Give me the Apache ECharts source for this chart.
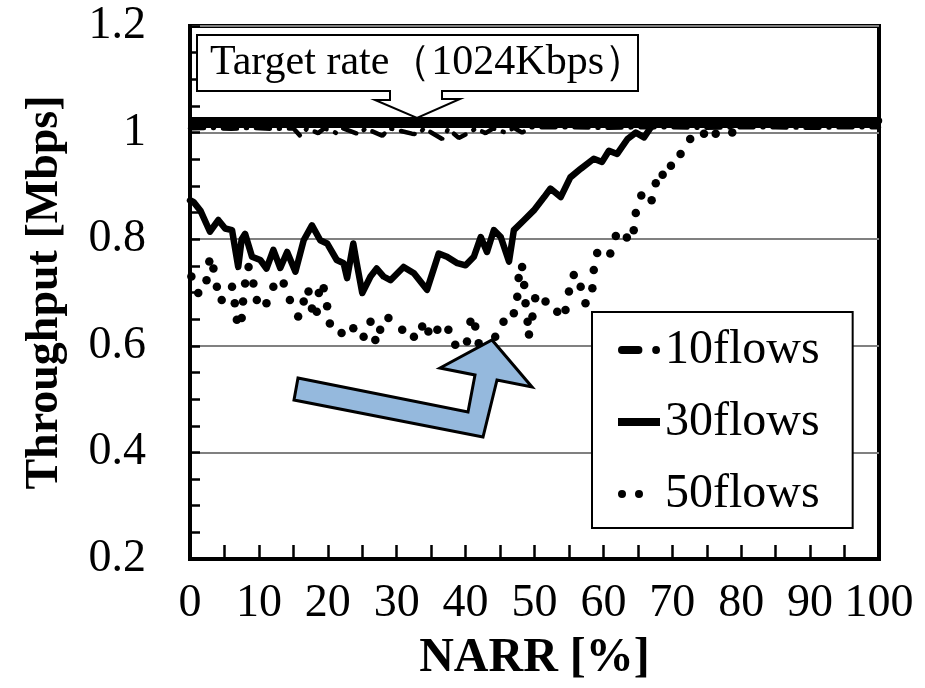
<!DOCTYPE html>
<html><head><meta charset="utf-8">
<script src="https://cdn.jsdelivr.net/npm/echarts@6/dist/echarts.min.js"></script>
<style>html,body{margin:0;padding:0;background:#fff}#c{width:925px;height:688px}</style>
</head><body><div id="c"></div><script>
const seriesNames = ['10flows', '30flows', '50flows'];
const xAxisTitle = 'NARR [%]';
const yAxisTitle = 'Throughput [Mbps]';
const calloutText = 'Target rate（1024Kbps）';
const targetRate = 1.024;
const yMin = 0.2, yMax = 1.2, yStep = 0.2;
const xMin = 0, xMax = 100, xStep = 10;

const flows10 = [[0,1.008],[3,1.009],[6,1.007],[9,1.009],[12,1.007],[15,1.008],[16,0.994],[17,1.008],
  [18.6,0.999],[19.5,1.008],[21.3,0.999],[22.2,1.008],[24.5,0.997],[25.5,1.008],[27.9,0.994],[29,1.008],
  [32.2,0.998],[33.1,0.997],[34,1.008],[36.6,0.988],[37.5,1.007],[39,0.99],[40.4,0.999],[41.5,1.008],
  [42.9,0.999],[44,1.008],[45.8,1.0],[47,1.009],[48.2,1.0],[49.5,1.01],[55,1.01],[60,1.009],[65,1.01],
  [70,1.01],[75,1.009],[80,1.01],[85,1.01],[90,1.009],[95,1.01],[100,1.01]];

const flows30 = [[0,0.873],[0.5,0.870],[1.5,0.854],[2.9,0.814],[4.1,0.836],[5.1,0.82],[6.1,0.817],[7.0,0.748],
  [7.5,0.80],[8.0,0.81],[9.0,0.767],[10.2,0.761],[11.1,0.745],[12.1,0.78],[13.1,0.746],[14.1,0.776],[15.3,0.739],
  [16.5,0.798],[17.7,0.826],[18.9,0.798],[19.9,0.792],[21.3,0.761],[22.3,0.755],[22.8,0.727],[23.7,0.792],
  [24.2,0.755],[25.0,0.699],[26.2,0.73],[27.1,0.745],[28.1,0.73],[29.1,0.723],[31.0,0.748],[32.5,0.736],
  [34.4,0.705],[36.1,0.773],[37.3,0.767],[38.8,0.755],[40.0,0.751],[41.2,0.767],[42.2,0.804],[43.1,0.776],
  [44.1,0.817],[45.1,0.804],[46.3,0.758],[47.0,0.817],[48.5,0.836],[49.9,0.854],[51.4,0.879],[52.3,0.895],
  [53.8,0.879],[55.2,0.916],[56.7,0.932],[58.6,0.951],[59.8,0.945],[60.8,0.966],[62.0,0.96],[63.5,0.988],
  [64.7,1.0],[65.9,0.991],[66.9,1.01],[68,1.02],[70,1.022],[80,1.022],[90,1.022],[100,1.022]];

const flows50 = [[0.2,0.73],[1.2,0.699],[2.4,0.723],[2.8,0.758],[3.4,0.745],[3.9,0.711],[4.6,0.686],[6.1,0.711],
  [6.5,0.68],[6.8,0.649],[7.5,0.652],[7.7,0.683],[8.0,0.717],[8.5,0.748],[9.2,0.717],[9.7,0.686],[11.1,0.68],
  [12.1,0.711],[13.6,0.717],[14.5,0.686],[15.7,0.655],[16.5,0.683],[17.2,0.702],[17.7,0.67],[18.4,0.664],
  [18.7,0.699],[19.4,0.708],[19.9,0.674],[20.3,0.642],[22.0,0.624],[23.7,0.633],[25.2,0.617],[26.2,0.645],
  [26.9,0.611],[27.6,0.63],[28.8,0.652],[30.8,0.63],[32.5,0.617],[33.7,0.636],[34.6,0.627],[35.9,0.63],
  [37.5,0.63],[38.5,0.602],[40.2,0.608],[40.7,0.645],[41.4,0.636],[41.9,0.605],[44.3,0.617],[45.5,0.645],
  [47.0,0.661],[47.5,0.692],[47.7,0.727],[48.2,0.748],[48.5,0.714],[48.7,0.68],[49.0,0.645],[49.2,0.621],
  [49.7,0.655],[50.1,0.689],[51.6,0.683],[53.3,0.664],[54.5,0.667],[55.0,0.702],[55.7,0.733],[56.7,0.711],
  [57.4,0.68],[58.4,0.708],[58.6,0.742],[59.1,0.774],[61.0,0.773],[61.8,0.806],[63.4,0.803],[64.4,0.817],
  [64.7,0.849],[65.5,0.882],[67.0,0.873],[67.6,0.905],[68.6,0.921],[69.8,0.938],[71.2,0.96],[72.6,0.988],
  [74.6,0.998],[76.3,0.998],[78.7,1.0],[81,1.02],[84,1.02],[87,1.02],[90,1.02],[93,1.02],[96,1.02],[99,1.02]];

const FONT = '"Liberation Serif", "Times New Roman", serif';
const chart = echarts.init(document.getElementById('c'), null, {renderer: 'canvas'});
chart.setOption({
  animation: false,
  backgroundColor: '#fff',
  grid: {left: 190, right: 46, top: 26, bottom: 128, show: true, borderColor: '#000', borderWidth: 4, backgroundColor: 'transparent'},
  xAxis: {
    type: 'value', min: xMin, max: xMax, interval: xStep,
    name: xAxisTitle, nameLocation: 'middle', nameGap: 76,
    nameTextStyle: {fontFamily: FONT, fontSize: 48, fontWeight: 'bold', color: '#000'},
    axisLine: {show: true, lineStyle: {color: '#000', width: 4}},
    axisTick: {show: true, inside: true, length: 14, lineStyle: {color: '#000', width: 2.5}},
    minorTick: {show: true, splitNumber: 2, length: 14, lineStyle: {color: '#000', width: 2.5}},
    axisLabel: {fontFamily: FONT, fontSize: 46, color: '#000', margin: 22},
    splitLine: {show: false}
  },
  yAxis: {
    type: 'value', min: yMin, max: yMax, interval: yStep,
    name: yAxisTitle, nameLocation: 'middle', nameGap: 122,
    nameTextStyle: {fontFamily: FONT, fontSize: 46, fontWeight: 'bold', color: '#000'},
    axisLine: {show: true, lineStyle: {color: '#000', width: 4}},
    axisTick: {show: true, inside: true, length: 10, lineStyle: {color: '#000', width: 2.5}},
    minorTick: {show: true, splitNumber: 4, length: 10, lineStyle: {color: '#000', width: 2.5}},
    axisLabel: {fontFamily: FONT, fontSize: 46, color: '#000', margin: 44},
    splitLine: {show: true, lineStyle: {color: '#808080', width: 2}}
  },
  legend: {
    orient: 'vertical', left: 592, top: 312,
    backgroundColor: '#fff', borderColor: '#000', borderWidth: 2,
    padding: [14, 33, 10, 26], itemGap: 24, itemWidth: 42, itemHeight: 8,
    itemStyle: {borderWidth: 0},
    textStyle: {fontFamily: FONT, fontSize: 48, color: '#000', lineHeight: 48},
    data: [
      {name: seriesNames[0], icon: 'path://M4,0 L21,0 A4,4 0 0 1 21,8 L4,8 A4,4 0 0 1 4,0 Z M35,4 A4,4 0 1 1 43,4 A4,4 0 1 1 35,4 Z'},
      {name: seriesNames[1], icon: 'path://M0,0 L42,0 L42,8 L0,8 Z'},
      {name: seriesNames[2], icon: 'path://M0,4 A4,4 0 1 1 8,4 A4,4 0 1 1 0,4 Z M17,4 A4,4 0 1 1 25,4 A4,4 0 1 1 17,4 Z M42,0 L42,8'}
    ]
  },
  series: [
    {
      name: seriesNames[0], type: 'line', data: flows10, showSymbol: false, symbol: 'none',
      itemStyle: {color: '#000'},
      lineStyle: {color: '#000', width: 4.5, type: [14, 9, 1, 9], cap: 'round'},
      markLine: {
        silent: true, symbol: ['none', 'none'], label: {show: false},
        lineStyle: {color: '#000', width: 11, type: 'solid'},
        data: [{yAxis: targetRate}]
      },
      z: 3
    },
    {
      name: seriesNames[1], type: 'line', data: flows30, showSymbol: false, symbol: 'none',
      itemStyle: {color: '#000'},
      lineStyle: {color: '#000', width: 6.5, join: 'round', cap: 'round'},
      z: 4
    },
    {
      name: seriesNames[2], type: 'scatter', data: flows50, symbol: 'circle', symbolSize: 8.5,
      itemStyle: {color: '#000', opacity: 1}, z: 5
    }
  ],
  graphic: [
    {
      type: 'polygon', z: 100,
      shape: {points: [[197,35],[638,35],[638,91],[442,91],[442,99],[460,99],[417,118],[375,100],[390,100],[390,91],[197,91]]},
      style: {fill: '#fff', stroke: '#000', lineWidth: 2}
    },
    {
      type: 'text', z: 101, x: 210, y: 42,
      style: {text: calloutText, fontFamily: FONT, fontSize: 42, fill: '#000'}
    },
    {
      type: 'polygon', z: 100,
      shape: {points: [[298,378],[468,412],[475,375],[440,368],[492,340],[532,387],[497,380],[483,437],[294,400]]},
      style: {fill: '#95b9dd', stroke: '#000', lineWidth: 3, lineJoin: 'miter'}
    }
  ]
});
</script></body></html>
